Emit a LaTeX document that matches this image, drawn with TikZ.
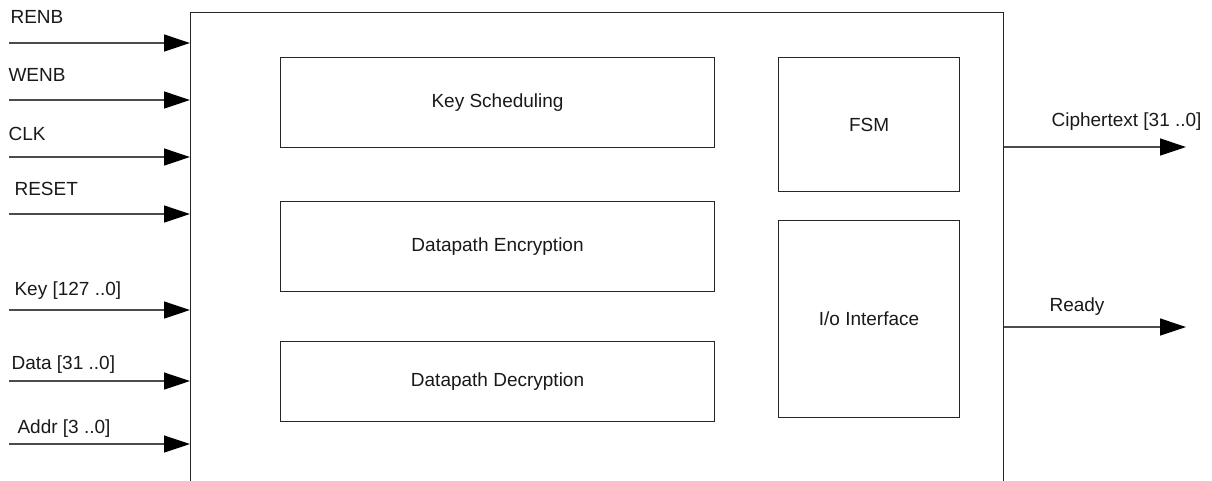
\documentclass[tikz,border=0pt]{standalone}
\usepackage{fontspec}
\setmainfont{Liberation Sans}
\usetikzlibrary{arrows.meta}
\begin{document}
\begin{tikzpicture}[x=1pt,y=-1pt,
  line width=1.1pt,
  blk/.style={draw=black!85, rectangle, inner sep=0pt, anchor=north west, text=black!90, font=\fontsize{19}{22}\selectfont},
  sig/.style={draw=black!70, line width=1.3pt, -{Triangle[length=26pt,width=17pt,color=black]}},
  lbl/.style={anchor=base west, inner sep=0pt, text=black!90, font=\fontsize{19}{22}\selectfont}]
\useasboundingbox (0,0) rectangle (1212,480);
\clip (0,0) rectangle (1212,480);

% top-level block (continues below the lower edge)
\node[blk, minimum width=813pt, minimum height=500pt] (main) at (190,12) {};

% internal blocks
\node[blk, minimum width=434pt, minimum height=90pt] (ks)  at (280,57)  {Key Scheduling};
\node[blk, minimum width=434pt, minimum height=90pt] (enc) at (280,201) {Datapath Encryption};
\node[blk, minimum width=434pt, minimum height=80pt] (dec) at (280,341) {Datapath Decryption};
\node[blk, minimum width=181pt, minimum height=134pt] (fsm) at (778,57)  {FSM};
\node[blk, minimum width=181pt, minimum height=197pt] (io)  at (778,220) {I/o Interface};

% input signals
\foreach \n/\y/\t/\lx/\ly in {renb/43/RENB/10/23, wenb/100/WENB/8/81, clk/157/CLK/8/140,
    rst/214/RESET/14/195, key/310/{Key [127 ..0]}/14/295, data/381/{Data [31 ..0]}/11/369,
    addr/444/{Addr [3 ..0]}/17/433}{
  \coordinate (\n) at (9,\y);
  \node[lbl] (\n-l) at (\lx,\ly) {\t};
  \draw[sig] (\n) -- (\n -| main.west);
}

% output signals
\foreach \n/\y/\t/\lx/\ly in {ct/147/{Ciphertext [31 ..0]}/1051/126, rdy/327/Ready/1049/311}{
  \coordinate (\n) at (1186,\y);
  \node[lbl] (\n-l) at (\lx,\ly) {\t};
  \draw[sig] (\n -| main.east) -- (\n);
}
\end{tikzpicture}
\end{document}
